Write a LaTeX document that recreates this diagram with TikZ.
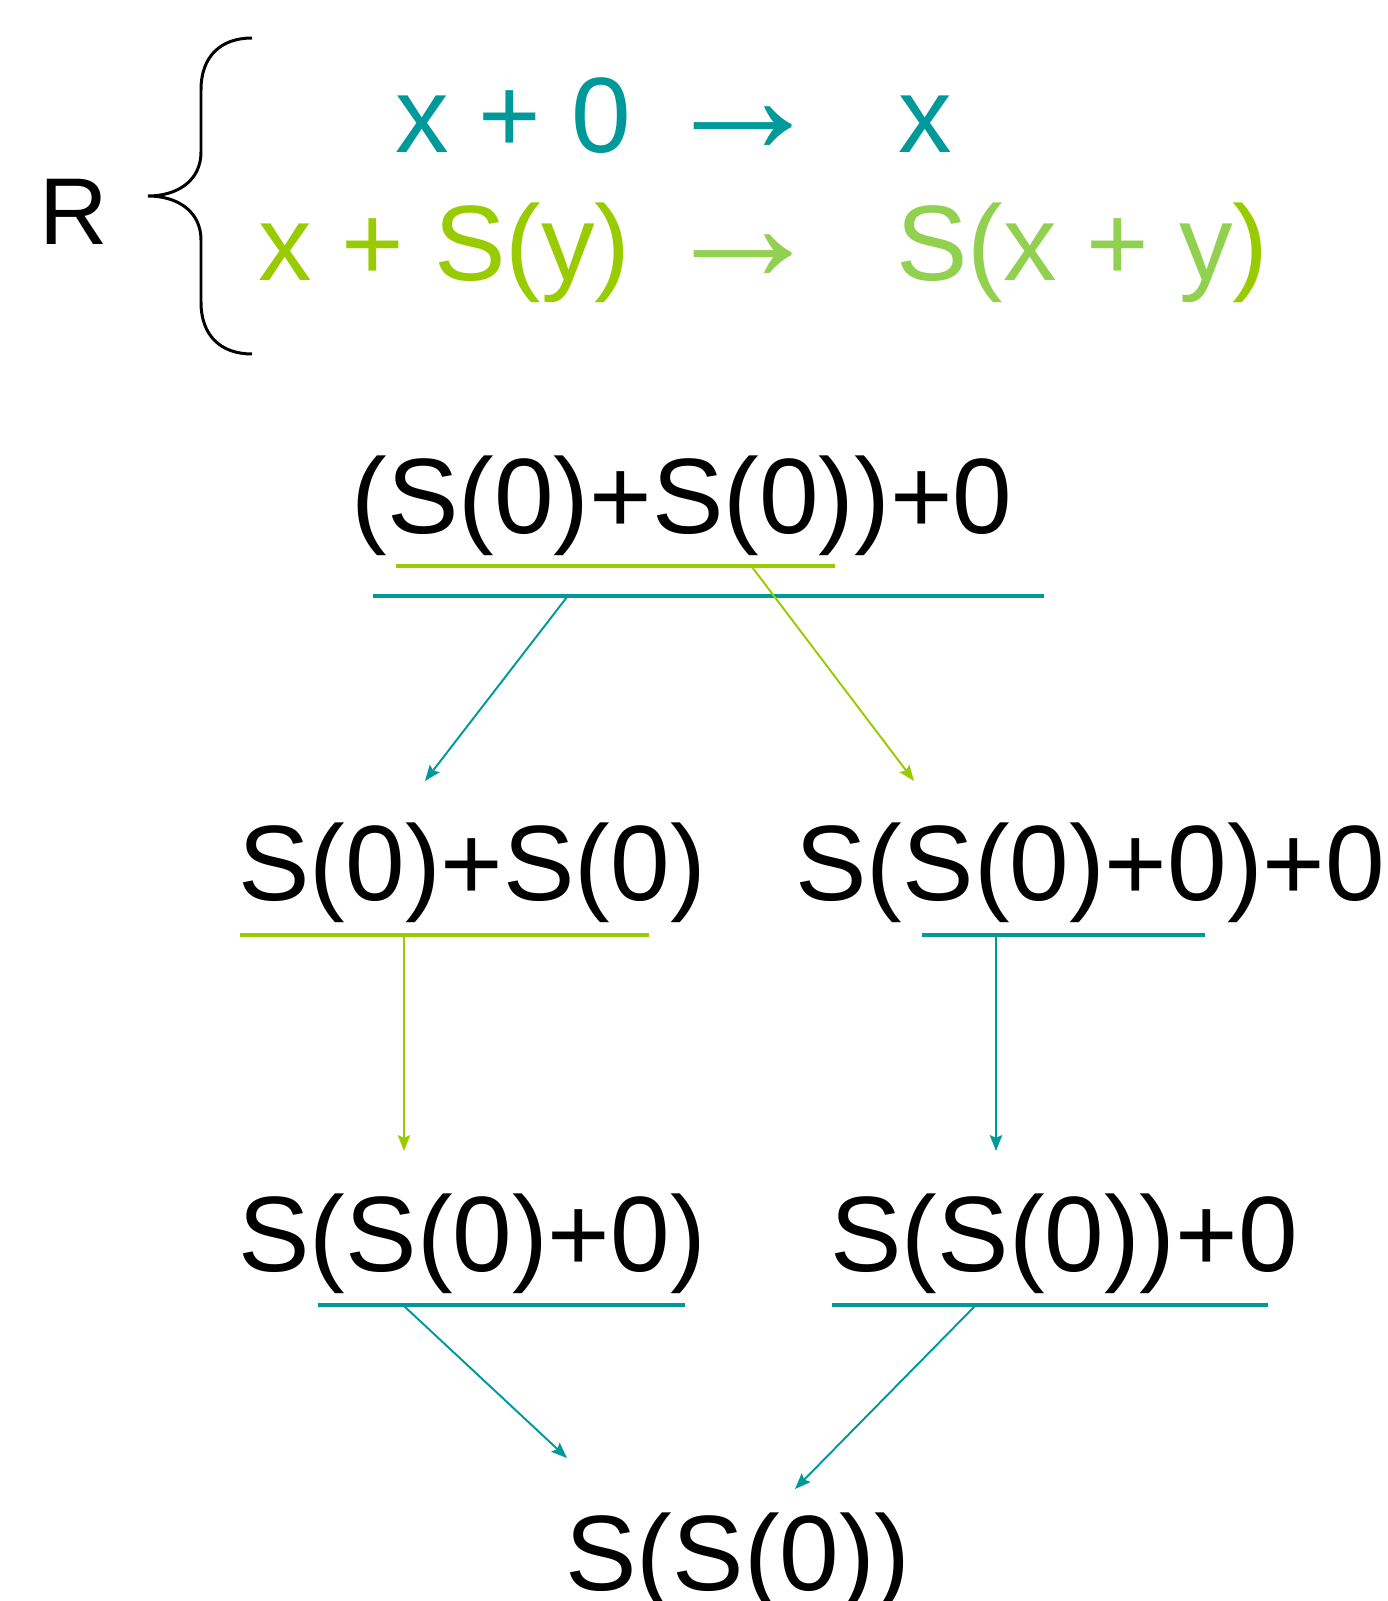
\documentclass[tikz,border=0pt]{standalone}
\usepackage{fontspec}
\setmainfont{Liberation Sans}
\usetikzlibrary{arrows.meta}
\definecolor{rteal}{HTML}{009999}
\definecolor{rlime}{HTML}{99CC00}
\definecolor{rgreen}{HTML}{92D050}
\tikzset{
  term/.style={anchor=base west,inner sep=0pt,font=\fontsize{61}{72}\selectfont},
  ruleto/.style={anchor=base,inner sep=0pt,font=\fontsize{94}{110}\selectfont},
  redex/.style={line width=1.8pt},
  rewrite/.style={-{Stealth[length=9pt,width=7pt,inset=1.5pt]},line width=1.1pt}
}

\begin{document}
\begin{tikzpicture}[x=0.02cm,y=-0.02cm]
            \useasboundingbox (0,0) rectangle (1388,1601);
            % rules
            \node[term,font=\fontsize{54}{64}\selectfont] (rname) at (39,245) {R};
            \draw[line width=1.7pt] (252,38) .. controls (221,38) and (201,56) .. (201,90) -- (201,152)
                .. controls (201,181) and (177,196) .. (148,196) .. controls (177,196) and (201,211) .. (201,240)
                -- (201,302) .. controls (201,336) and (221,354) .. (252,354);
            \node[term,text=rteal] (lhsa) at (395,153) {x + 0};
            \node[ruleto,text=rteal] (arra) at (743.5,153.5) {→};
            \node[term,text=rteal] (rhsa) at (898,153) {x};
            \node[term,text=rlime] (lhsb) at (258,281) {x + S(y)};
            \node[ruleto,text=rgreen] (arrb) at (743.5,281.5) {→};
            \node[term,text=rgreen] (rhsb) at (896,281) {S(x + y\textcolor{rlime}{)}};
            % terms
            \node[term] (t0) at (351,533) {(S(0)+S(0))+0};
            \node[term] (t1) at (238,900) {S(0)+S(0)};
            \node[term] (t2) at (795,900) {S(S(0)+0)+0};
            \node[term] (t3) at (238,1271) {S(S(0)+0)};
            \node[term] (t4) at (830,1271) {S(S(0))+0};
            \node[term] (t5) at (565,1590) {S(S(0))};
            % redexes
            \draw[redex,rlime] (396,566) -- (835,566);
            \draw[redex,rteal] (373,596) -- (1044,596);
            \draw[redex,rlime] (240,935) -- (649,935);
            \draw[redex,rteal] (922,935) -- (1205,935);
            \draw[redex,rteal] (318,1305) -- (685,1305);
            \draw[redex,rteal] (832,1305) -- (1268,1305);
            \coordinate (u0a) at (567,597);
            \coordinate (u0b) at (752,567);
            \coordinate (u1) at (404,936);
            \coordinate (u2) at (996,936);
            \coordinate (u3) at (404,1306);
            \coordinate (u4) at (975,1306);
            \coordinate (e1) at (425,781);
            \coordinate (e2) at (914,781);
            \coordinate (e3) at (404,1151);
            \coordinate (e4) at (996,1151);
            \coordinate (e5a) at (567,1458);
            \coordinate (e5b) at (795,1489);
            % steps
            \draw[rewrite,rteal] (u0a) -- (e1);
            \draw[rewrite,rlime] (u0b) -- (e2);
            \draw[rewrite,rlime] (u1) -- (e3);
            \draw[rewrite,rteal] (u2) -- (e4);
            \draw[rewrite,rteal] (u3) -- (e5a);
            \draw[rewrite,rteal] (u4) -- (e5b);
        \end{tikzpicture}
\end{document}
